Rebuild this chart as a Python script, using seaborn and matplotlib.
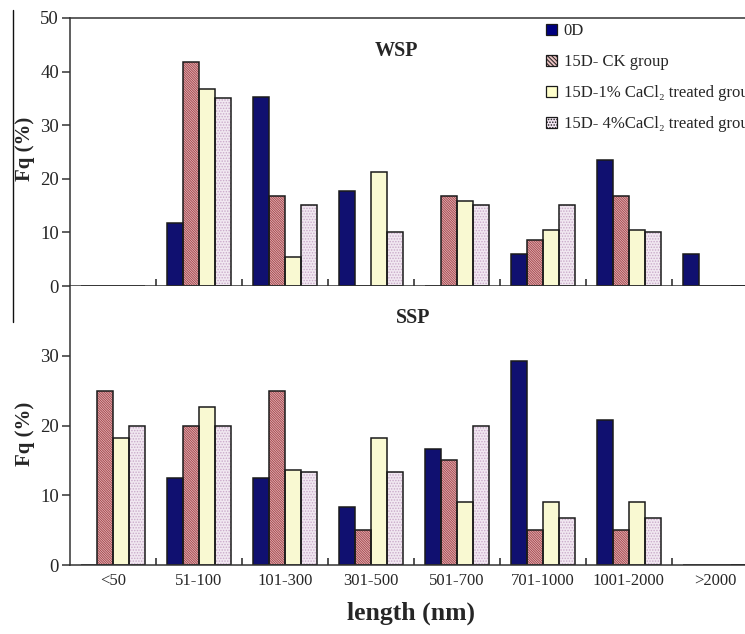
import pandas as pd
import matplotlib
matplotlib.use("Agg")
import matplotlib.pyplot as plt
from matplotlib.patches import Patch
from matplotlib.lines import Line2D
import seaborn as sns

# length classes and groups
categories = ["<50", "51-100", "101-300", "301-500", "501-700", "701-1000", "1001-2000", ">2000"]
groups = ["0D", "CK", "Ca1", "Ca4"]
group_labels = ["0D", "15D- CK group",
                "15D-1% CaCl\u2082 treated group",
                "15D- 4%CaCl\u2082 treated group"]

# WSP frequencies (%)
wsp_0d = [0, 11.8, 35.3, 17.7, 0, 5.9, 23.5, 5.9]
wsp_ck = [0, 41.7, 16.7, 0, 16.7, 8.5, 16.7, 0]
wsp_ca1 = [0, 36.8, 5.5, 21.2, 15.8, 10.5, 10.5, 0]
wsp_ca4 = [0, 35.0, 15.2, 10.0, 15.2, 15.2, 10.0, 0]

# SSP frequencies (%)
ssp_0d = [0, 12.5, 12.5, 8.3, 16.7, 29.2, 20.8, 0]
ssp_ck = [25.0, 20.0, 25.0, 5.0, 15.0, 5.0, 5.0, 0]
ssp_ca1 = [18.2, 22.7, 13.6, 18.2, 9.1, 9.1, 9.1, 0]
ssp_ca4 = [20.0, 20.0, 13.3, 13.3, 20.0, 6.7, 6.7, 0]

face_colors = ["#000080", "#eac2c2", "#ffffcc", "#f3e6f3"]
hatch_colors = ["#000080", "#a9444c", "#ffffcc", "#c9a9c9"]
hatches = ["", "\\" * 14, "", "......"]


def to_long(series):
    rows = []
    for g, vals in zip(groups, series):
        for c, v in zip(categories, vals):
            rows.append({"length": c, "group": g, "fq": v})
    return pd.DataFrame(rows)


sns.set_theme(style="ticks")
plt.rcParams["font.family"] = ["Liberation Serif", "DejaVu Serif"]
plt.rcParams["hatch.linewidth"] = 0.7

fig = plt.figure(figsize=(7.45, 6.34), dpi=100)
W, H = 745, 634
ax1 = fig.add_axes([70 / W, 1 - 286 / H, 1 - 70 / W, (286 - 18) / H])
ax2 = fig.add_axes([70 / W, 1 - 565 / H, 1 - 70 / W, (565 - 286) / H])


def draw(ax, series):
    df = to_long(series)
    sns.barplot(data=df, x="length", y="fq", hue="group", order=categories,
                hue_order=groups, palette=face_colors, width=0.74,
                linewidth=0, legend=False, ax=ax)
    for cont, hc, h in zip(ax.containers, hatch_colors, hatches):
        for bar in cont:
            bar.set_edgecolor(hc)
            bar.set_hatch(h)
    # black outlines on top
    sns.barplot(data=df, x="length", y="fq", hue="group", order=categories,
                hue_order=groups, palette=["#1a1a1a"] * 4, width=0.74,
                fill=False, linewidth=1.1, legend=False, ax=ax)
    ax.set_xlim(-0.5, 7.35)
    ax.set_xticks(range(len(categories)))
    ax.set_xticks([i + 0.5 for i in range(7)], minor=True)
    ax.tick_params(axis="x", which="major", length=0, pad=6, labelsize=12)
    ax.tick_params(axis="x", which="minor", direction="in", length=5, width=1.2, color="#333333")
    ax.tick_params(axis="y", direction="out", length=6, width=1.1, pad=2, labelsize=13.5,
                   color="#333333")
    for s in ax.spines.values():
        s.set_linewidth(1.1)
        s.set_color("#333333")
    ax.spines["right"].set_visible(False)
    ax.set_xlabel("")
    ax.set_ylabel("Fq (%)", fontsize=15, fontweight="bold")


draw(ax1, [wsp_0d, wsp_ck, wsp_ca1, wsp_ca4])
draw(ax2, [ssp_0d, ssp_ck, ssp_ca1, ssp_ca4])

ax1.set_ylim(0, 50)
ax1.set_yticks([0, 10, 20, 30, 40, 50])
ax1.set_xticklabels([])
ax1.yaxis.set_label_coords(-(70 - 35) / 675, 0.51)

ax2.set_ylim(0, 40)
ax2.set_yticks([0, 10, 20, 30])
ax2.spines["top"].set_visible(False)
ax2.yaxis.set_label_coords(-(70 - 35) / 675, 0.47)
ax2.set_xlabel("length (nm)", fontsize=18.5, fontweight="bold")
ax2.xaxis.set_label_coords((411 - 70) / 675, -(602 - 565) / 279)

fig.text(396 / W, 1 - 51 / H, "WSP", ha="center", va="center", fontsize=14.5, fontweight="bold")
fig.text(413 / W, 1 - 318 / H, "SSP", ha="center", va="center", fontsize=14.5, fontweight="bold")

handles = [Patch(facecolor=fc, edgecolor="#1a1a1a", hatch=h.replace("\\" * 14, "\\" * 8),
                 linewidth=0.9)
           for fc, h in zip(face_colors, hatches)]
ax1.legend(handles, group_labels, loc="upper left", bbox_to_anchor=(546 / W, 1 - 23 / H),
           bbox_transform=fig.transFigure, frameon=False, fontsize=12,
           borderpad=0, borderaxespad=0, handlelength=0.65, handleheight=0.65,
           handletextpad=0.4, labelspacing=0.9)

# stray vertical rule at the left edge
fig.add_artist(Line2D([13 / W, 13 / W], [1 - 10 / H, 1 - 322 / H], color="#111111", lw=1.0))

plt.savefig("out.png", dpi=100)
